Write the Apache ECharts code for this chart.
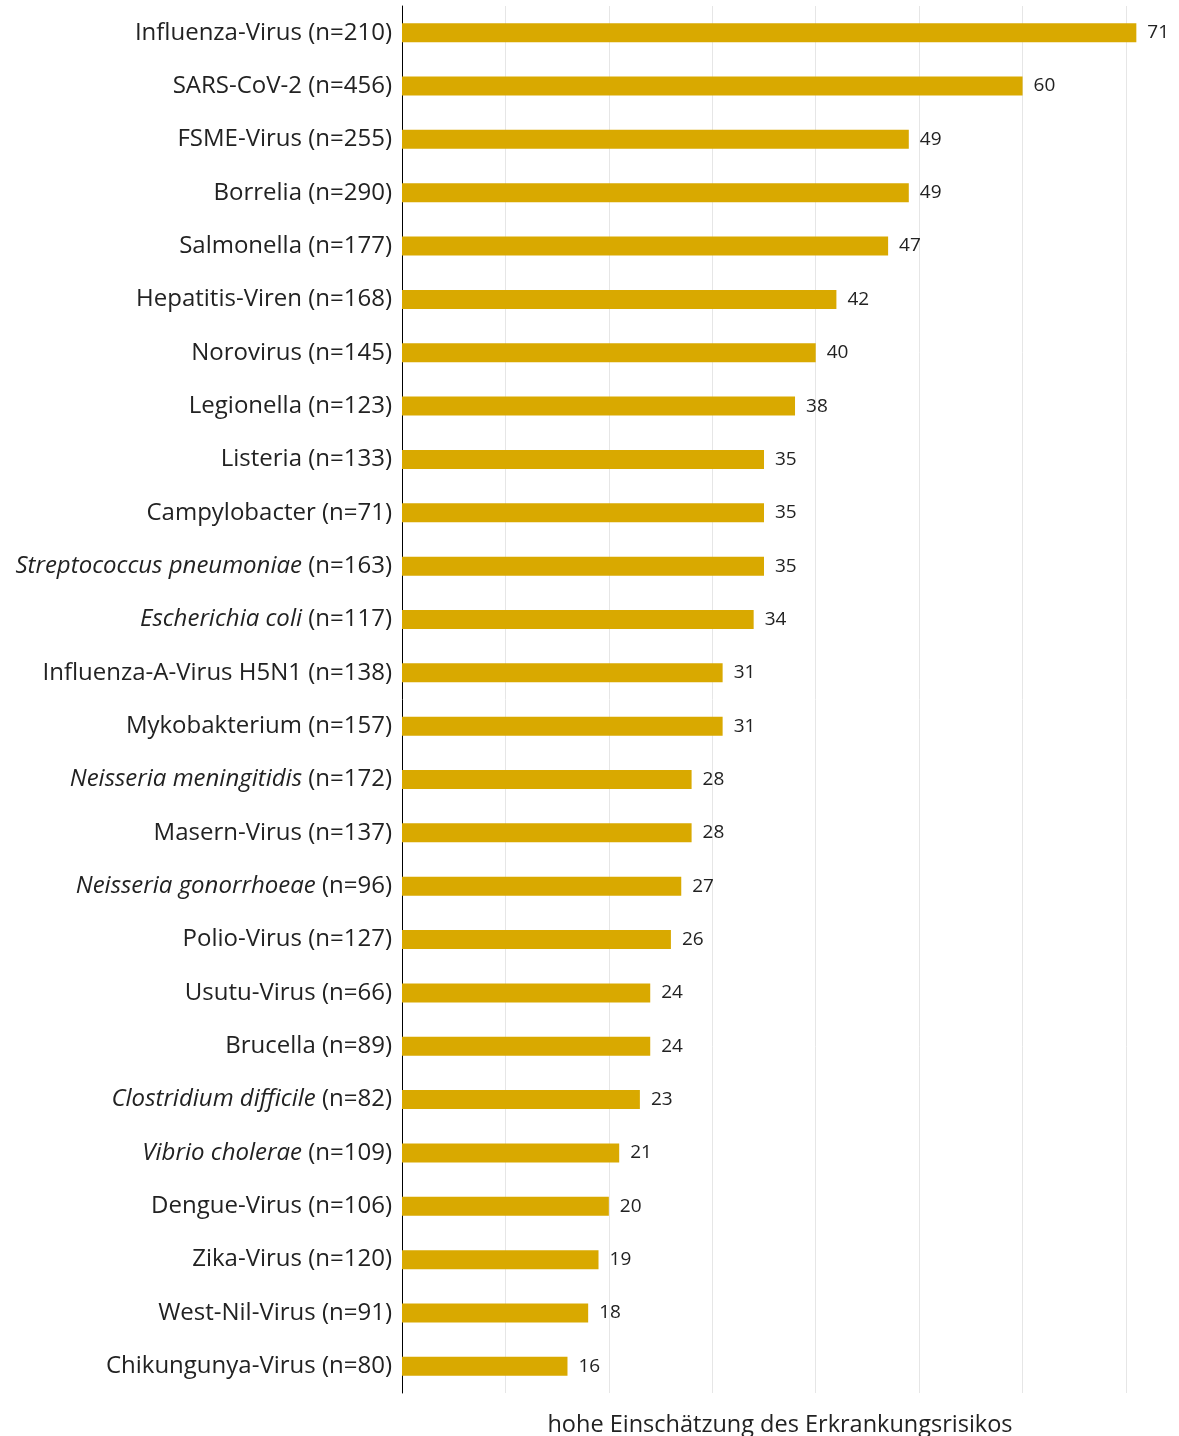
<!DOCTYPE html>
<html>
<head>
<meta charset="utf-8">
<script src="https://cdn.jsdelivr.net/npm/echarts@6/dist/echarts.min.js"></script>
<style>
  html, body { margin: 0; padding: 0; background: #fff; }
  #chart { width: 1179px; height: 1436px; }
</style>
</head>
<body>
<div id="chart"></div>
<script>
// Pathogen names; species names in italics use the {i|...} rich style
const pathogens = [
  'Influenza-Virus', 'SARS-CoV-2', 'FSME-Virus', 'Borrelia', 'Salmonella',
  'Hepatitis-Viren', 'Norovirus', 'Legionella', 'Listeria', 'Campylobacter',
  'Streptococcus pneumoniae', 'Escherichia coli', 'Influenza-A-Virus H5N1',
  'Mykobakterium', 'Neisseria meningitidis', 'Masern-Virus',
  'Neisseria gonorrhoeae', 'Polio-Virus', 'Usutu-Virus', 'Brucella',
  'Clostridium difficile', 'Vibrio cholerae', 'Dengue-Virus', 'Zika-Virus',
  'West-Nil-Virus', 'Chikungunya-Virus'
];
const sampleSizes = [210, 456, 255, 290, 177, 168, 145, 123, 133, 71, 163, 117,
  138, 157, 172, 137, 96, 127, 66, 89, 82, 109, 106, 120, 91, 80];
const italicNames = [
  'Streptococcus pneumoniae', 'Escherichia coli', 'Neisseria meningitidis',
  'Neisseria gonorrhoeae', 'Clostridium difficile', 'Vibrio cholerae'
];
// Share with a high assessment of disease risk (%)
const highRisk = [71, 60, 49, 49, 47, 42, 40, 38, 35, 35, 35, 34, 31, 31, 28, 28,
  27, 26, 24, 24, 23, 21, 20, 19, 18, 16];
const axisTitle = 'hohe Einschätzung des Erkrankungsrisikos';

const categories = pathogens.map((p, i) => {
  const name = italicNames.includes(p) ? '{i|' + p + '}' : '{n|' + p + '}';
  return name + '{n| (n=' + sampleSizes[i] + ')}';
});

const chart = echarts.init(document.getElementById('chart'), null, { renderer: 'canvas' });
const font = '"Open Sans", "Noto Sans", sans-serif';

chart.setOption({
  animation: false,
  grid: { left: 402, right: 53, top: 6, bottom: 43, containLabel: false, outerBoundsMode: 'none' },
  xAxis: {
    type: 'value',
    min: 0,
    max: 70,
    interval: 10,
    axisLine: { show: false },
    axisTick: { show: false },
    axisLabel: { show: false },
    splitLine: { show: true, lineStyle: { color: '#e6e6e6', width: 1 } },
    name: axisTitle,
    nameLocation: 'middle',
    nameGap: 20,
    nameTextStyle: {
      fontFamily: font, fontSize: 23.5, color: '#222',
      padding: [0, 0, 0, 32]
    }
  },
  yAxis: {
    type: 'category',
    inverse: true,
    data: categories,
    axisLine: { show: true, lineStyle: { color: '#000', width: 1 } },
    axisTick: { show: false },
    splitLine: { show: false },
    axisLabel: {
      margin: 10,
      rich: {
        n: { fontFamily: font, fontSize: 24, color: '#222' },
        i: { fontFamily: font, fontSize: 24, color: '#222', fontStyle: 'italic' }
      }
    }
  },
  series: [{
    type: 'bar',
    data: highRisk,
    barWidth: 19,
    clip: false,
    itemStyle: { color: '#D9A900' },
    label: {
      show: true,
      position: 'right',
      distance: 11,
      fontFamily: font,
      fontSize: 19,
      color: '#222'
    }
  }]
});
</script>
</body>
</html>
